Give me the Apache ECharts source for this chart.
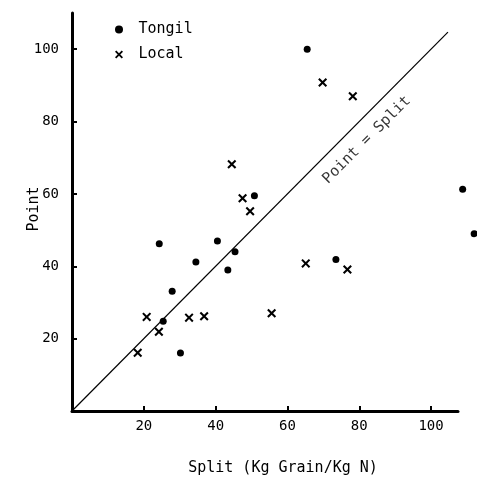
<!DOCTYPE html>
<html>
<head>
<meta charset="utf-8">
<script src="https://cdn.jsdelivr.net/npm/echarts@6/dist/echarts.min.js"></script>
<style>
  html, body { margin: 0; padding: 0; background: #fff; }
  #chart { width: 477px; height: 479px; }
</style>
</head>
<body>
<div id="chart"></div>
<script>
// Grain yield response: point vs split N application
const tongilSplit = [65.5, 108.8, 50.8, 112, 24.3, 40.5, 45.4, 34.5, 43.4, 73.5, 27.9, 25.4, 30.2];
const tongilPoint = [100, 61.3, 59.5, 49, 46.2, 47, 44, 41.2, 39, 41.9, 33.1, 24.8, 16];
const localSplit = [69.8, 78.2, 44.5, 47.5, 49.6, 65.1, 76.7, 20.8, 32.6, 36.8, 55.6, 24.2, 18.3];
const localPoint = [90.8, 87, 68.2, 58.8, 55.2, 40.8, 39.1, 26, 25.8, 26.2, 27, 21.9, 16.1];
const tickValues = [20, 40, 60, 80, 100];
const equalityLine = [[0, 0], [104.7, 104.7]];
const equalityLabelAt = [82.1, 74.9];

const ink = '#000';
const mono = 'DejaVu Sans Mono';
const crossPath = 'path://M0,1.6L1.6,0L5,3.4L8.4,0L10,1.6L6.6,5L10,8.4L8.4,10L5,6.6L1.6,10L0,8.4L3.4,5Z';

const pair = (xs, ys) => xs.map((x, i) => [x, ys[i]]);

const axisCommon = {
  type: 'value',
  min: 0,
  interval: 20,
  splitLine: { show: false },
  axisLine: { show: true, lineStyle: { color: ink, width: 3 } },
  axisTick: { show: true, inside: true, length: 5, customValues: tickValues,
              lineStyle: { color: ink, width: 2 } },
  axisLabel: { customValues: tickValues, color: ink, fontFamily: mono, fontSize: 14 },
  nameLocation: 'middle',
  nameMoveOverlap: false,
  nameTextStyle: { color: ink, fontFamily: mono, fontSize: 15 }
};

const chart = echarts.init(document.getElementById('chart'), null, { renderer: 'canvas' });
chart.setOption({
  backgroundColor: '#fff',
  animation: false,
  grid: { left: 72, top: 13, right: 19, bottom: 68, containLabel: false, outerBoundsMode: 'none' },
  legend: {
    orient: 'vertical',
    left: 110,
    top: 17,
    itemWidth: 29,
    itemHeight: 8,
    itemGap: 10,
    data: ['Tongil', 'Local'],
    textStyle: { color: ink, fontFamily: mono, fontSize: 15 }
  },
  xAxis: Object.assign({}, axisCommon, {
    max: 107.5,
    name: 'Split (Kg Grain/Kg N)',
    nameGap: 50,
    nameTextStyle: Object.assign({}, axisCommon.nameTextStyle, { padding: [0, 0, 0, 36] }),
    axisLabel: Object.assign({}, axisCommon.axisLabel, { margin: 8 })
  }),
  yAxis: Object.assign({}, axisCommon, {
    max: 110,
    name: 'Point',
    nameGap: 30,
    nameTextStyle: Object.assign({}, axisCommon.nameTextStyle, { padding: [0, 0, 0, 6] }),
    axisLabel: Object.assign({}, axisCommon.axisLabel, { margin: 13 })
  }),
  series: [
    {
      name: 'Point = Split',
      type: 'line',
      data: equalityLine,
      showSymbol: false,
      silent: true,
      lineStyle: { color: ink, width: 1.2 },
      z: 1
    },
    {
      name: 'equality label',
      type: 'scatter',
      data: [equalityLabelAt],
      symbolSize: 0,
      silent: true,
      label: {
        show: true,
        position: 'inside',
        rotate: 45,
        formatter: 'Point = Split',
        color: ink,
        fontFamily: mono,
        fontSize: 15
      }
    },
    {
      name: 'Tongil',
      type: 'scatter',
      data: pair(tongilSplit, tongilPoint),
      symbol: 'circle',
      symbolSize: 7,
      clip: false,
      itemStyle: { color: ink, opacity: 1 },
      z: 3
    },
    {
      name: 'Local',
      type: 'scatter',
      data: pair(localSplit, localPoint),
      symbol: crossPath,
      symbolSize: 9,
      clip: false,
      itemStyle: { color: ink, opacity: 1 },
      z: 3
    }
  ]
});
</script>
</body>
</html>
